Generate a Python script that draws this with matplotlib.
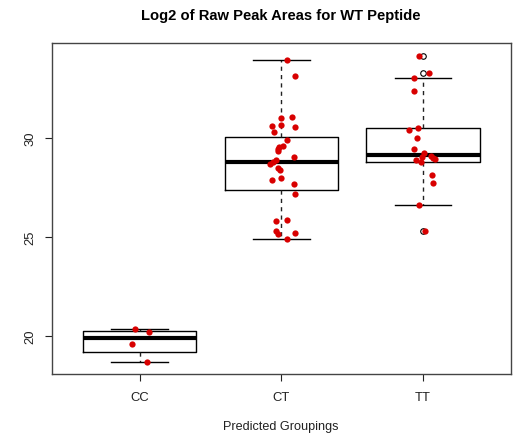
import matplotlib
matplotlib.use("Agg")
import matplotlib.pyplot as plt
import numpy as np

plt.rcParams['font.family'] = ['Liberation Sans', 'DejaVu Sans']

# groups
groups = ['CC', 'CT', 'TT']

# box summaries (lower whisker, Q1, median, Q3, upper whisker)
whis_lo = [18.69, 24.88, 26.62]
q1 = [19.18, 27.37, 28.77]
medians = [19.88, 28.76, 29.13]
q3 = [20.25, 30.05, 30.47]
whis_hi = [20.34, 33.92, 33.00]
outliers = [[], [], [34.14, 33.25, 25.27]]

# individual (jittered) points
cc_vals = [20.35, 20.19, 19.58, 18.69]
cc_jit = [-0.035, 0.07, -0.056, 0.056]

ct_vals = [33.92, 33.10, 31.05, 30.98, 30.58, 30.63, 30.53, 30.27, 29.87, 29.60,
           29.52, 29.41, 29.31, 29.04, 28.87, 28.76, 28.69, 28.48, 28.37, 27.95,
           27.85, 27.65, 27.17, 25.78, 25.83, 25.27, 25.15, 25.17, 24.88]
ct_jit = [0.044, 0.096, 0.073, 0.0, -0.065, 0.0, 0.096, -0.049, 0.044, 0.016,
          -0.016, -0.023, -0.021, 0.087, -0.040, -0.058, -0.077, -0.026, -0.007, 0.002,
          -0.065, 0.087, 0.096, -0.040, 0.044, -0.040, -0.023, 0.096, 0.040]

tt_vals = [34.14, 33.25, 33.00, 32.34, 30.47, 30.37, 30.00, 29.44, 29.23, 29.09,
           29.03, 28.99, 28.91, 28.89, 28.76, 28.12, 27.73, 26.60, 25.27]
tt_jit = [-0.030, 0.044, -0.065, -0.065, -0.035, -0.096, -0.044, -0.065, 0.007, 0.056,
          -0.005, 0.073, 0.087, -0.049, -0.012, 0.066, 0.073, -0.028, 0.016]

fig = plt.figure(figsize=(5.18, 4.35), dpi=100)
ax = fig.add_axes([51.7/518, 1 - 374.7/435, (510.7 - 51.7)/518, (374.7 - 44.3)/435])

stats = []
for i in range(3):
    stats.append(dict(whislo=whis_lo[i], q1=q1[i], med=medians[i], q3=q3[i],
                      whishi=whis_hi[i], fliers=outliers[i]))

ax.bxp(stats, positions=[1, 2, 3], widths=0.8, capwidths=0.4,
       boxprops=dict(color='black', linewidth=1),
       medianprops=dict(color='black', linewidth=3, solid_capstyle='butt'),
       whiskerprops=dict(color='#222222', linewidth=1, linestyle=(0, (3, 3))),
       capprops=dict(color='black', linewidth=1),
       flierprops=dict(marker='o', markerfacecolor='white', markeredgecolor='black',
                       markersize=4, markeredgewidth=0.8))

# stripchart on top
for pos, vals, jit in [(1, cc_vals, cc_jit), (2, ct_vals, ct_jit), (3, tt_vals, tt_jit)]:
    ax.plot(pos + np.array(jit), vals, 'o', color='#d80000', markersize=4.5,
            markeredgewidth=0, zorder=5)

ax.set_xlim(0.38, 3.62)
ax.set_ylim(18.08, 34.77)
ax.set_xticks([1, 2, 3])
ax.set_xticklabels(groups)
ax.set_yticks([20, 25, 30])
ax.set_yticklabels(['20', '25', '30'], rotation=90, va='center')
ax.tick_params(axis='both', length=5, width=0.8, labelsize=9.4, colors='#222222')
ax.tick_params(axis='x', pad=7.5)
ax.tick_params(axis='y', pad=6)
for s in ax.spines.values():
    s.set_color('#444444')
    s.set_linewidth(1)

ax.set_xlabel('Predicted Groupings', fontsize=9.1, labelpad=12, color='#222222')
fig.text((51.7 + 510.7) / 2 / 518, 1 - 16/435, 'Log2 of Raw Peak Areas for WT Peptide',
         ha='center', va='center', fontsize=10.6, fontweight='bold')

fig.savefig('out.png', dpi=100)
